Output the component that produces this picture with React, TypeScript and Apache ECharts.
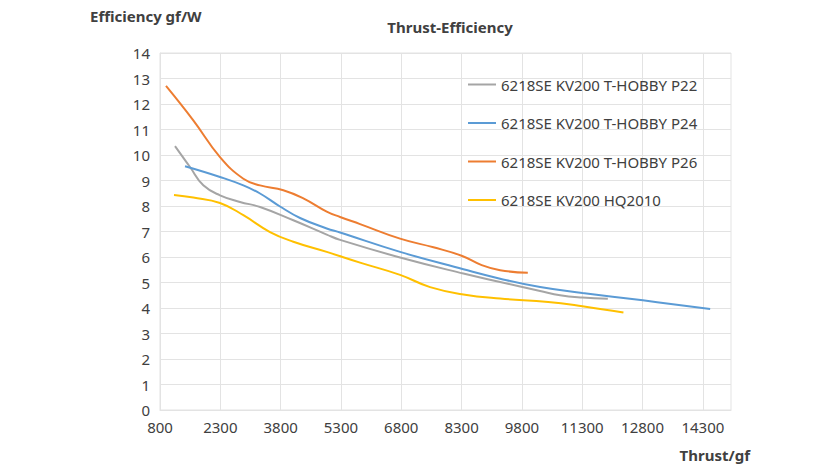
import React, { useEffect, useRef } from "react";
import * as echarts from "echarts";

const seriesNames = [
  "6218SE KV200 T-HOBBY P22",
  "6218SE KV200 T-HOBBY P24",
  "6218SE KV200 T-HOBBY P26",
  "6218SE KV200 HQ2010",
];
const colors = ["#A5A5A5", "#5B9BD5", "#ED7D31", "#FFC000"];

const p22X = [1173, 1546, 1877, 2292, 2790, 3288, 4116, 4946, 5278, 6770, 8345, 9258, 10253, 10750, 11305, 11937];
const p22Y = [10.35, 9.53, 8.81, 8.42, 8.16, 7.96, 7.44, 6.88, 6.67, 5.98, 5.35, 5.02, 4.67, 4.5, 4.41, 4.36];

const p24X = [1422, 2292, 2873, 3288, 3785, 4283, 4946, 5278, 6770, 8345, 9258, 10253, 11305, 12808, 14482];
const p24Y = [9.56, 9.14, 8.81, 8.49, 7.98, 7.53, 7.12, 6.96, 6.2, 5.52, 5.15, 4.82, 4.59, 4.3, 3.96];

const p26X = [949, 1628, 2292, 2873, 3288, 3867, 4365, 4946, 5278, 5775, 6770, 7600, 8300, 8800, 9258, 9947];
const p26Y = [12.71, 11.36, 9.92, 9.07, 8.81, 8.62, 8.3, 7.78, 7.57, 7.29, 6.72, 6.38, 6.05, 5.68, 5.48, 5.38];

const hqX = [1148, 1628, 2292, 2873, 3536, 4116, 4946, 5775, 6770, 7516, 8345, 9258, 10453, 11305, 12325];
const hqY = [8.43, 8.33, 8.12, 7.64, 6.98, 6.6, 6.2, 5.78, 5.3, 4.82, 4.53, 4.37, 4.24, 4.07, 3.82];

const xTicks = [800, 2300, 3800, 5300, 6800, 8300, 9800, 11300, 12800, 14300];
const xMin = 800;
const xMax = 15000;

const xs = [p22X, p24X, p26X, hqX];
const ys = [p22Y, p24Y, p26Y, hqY];

const FONT = "'Noto Sans', sans-serif";

export default function App() {
  const ref = useRef<HTMLDivElement>(null);
  useEffect(() => {
    if (!ref.current) return;
    const chart = echarts.init(ref.current, undefined, { renderer: "svg" });
    const gridColor = "#E3E3E3";
    chart.setOption({
      animation: false,
      backgroundColor: "#ffffff",
      textStyle: { fontFamily: FONT },
      grid: {
        left: 160,
        right: 109,
        top: 53,
        bottom: 63,
        show: true,
        borderColor: gridColor,
        borderWidth: 1,
      },
      legend: {
        orient: "vertical",
        left: 463,
        top: 72,
        itemWidth: 28,
        itemHeight: 14,
        itemGap: 23.5,
        icon: "path://M0,6 L28,6 L28,8 L0,8 Z",
        textStyle: { fontSize: 15, color: "#404040", fontFamily: FONT },
        data: seriesNames,
      },
      xAxis: {
        type: "value",
        min: xMin,
        max: xMax,
        axisLine: { show: true, lineStyle: { color: gridColor, width: 1 } },
        axisTick: { show: false, customValues: xTicks },
        axisLabel: {
          customValues: xTicks,
          formatter: (v: number) => String(v),
          fontSize: 15,
          color: "#404040",
          margin: 9,
          fontFamily: FONT,
        },
        splitLine: { show: true, lineStyle: { color: gridColor, width: 1 } },
      },
      yAxis: {
        type: "value",
        min: 0,
        max: 14,
        interval: 1,
        axisLine: { show: true, lineStyle: { color: gridColor, width: 1 } },
        axisTick: { show: false },
        axisLabel: { fontSize: 15, color: "#404040", margin: 10, fontFamily: FONT },
        splitLine: { show: true, lineStyle: { color: gridColor, width: 1 } },
      },
      graphic: [
        {
          type: "text",
          x: 90,
          y: 16,
          style: {
            text: "Efficiency gf/W",
            font: `bold 15px ${FONT}`,
            fill: "#404040",
            align: "left",
            verticalAlign: "middle",
          },
        },
        {
          type: "text",
          x: 450,
          y: 27,
          style: {
            text: "Thrust-Efficiency",
            font: `bold 15px ${FONT}`,
            fill: "#404040",
            align: "center",
            verticalAlign: "middle",
          },
        },
        {
          type: "text",
          x: 750,
          y: 455,
          style: {
            text: "Thrust/gf",
            font: `bold 15px ${FONT}`,
            fill: "#404040",
            align: "right",
            verticalAlign: "middle",
          },
        },
      ],
      series: seriesNames.map((name, i) => ({
        name,
        type: "line",
        data: xs[i].map((x, j) => [x, ys[i][j]]),
        smooth: 0.45,
        symbol: "none",
        color: colors[i],
        lineStyle: { width: 2, color: colors[i] },
      })),
    });
    return () => chart.dispose();
  }, []);
  return (
    <div
      ref={ref}
      style={{ position: "fixed", left: 0, top: 0, width: 840, height: 473 }}
    />
  );
}
